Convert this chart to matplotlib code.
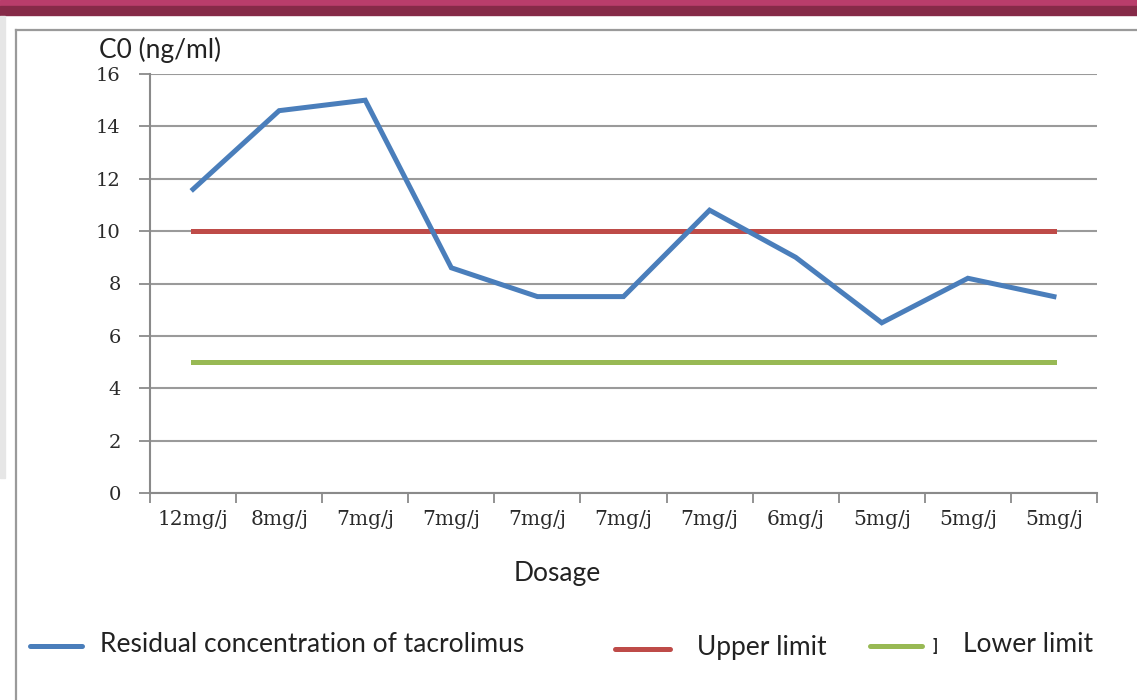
import matplotlib
matplotlib.use("Agg")
import matplotlib.pyplot as plt
from matplotlib.lines import Line2D
from matplotlib.patches import Rectangle

categories = ["12mg/j", "8mg/j", "7mg/j", "7mg/j", "7mg/j", "7mg/j",
              "7mg/j", "6mg/j", "5mg/j", "5mg/j", "5mg/j"]
residual = [11.6, 14.6, 15.0, 8.6, 7.5, 7.5, 10.8, 9.0, 6.5, 8.2, 7.5]
upper_limit = [10] * len(categories)
lower_limit = [5] * len(categories)
y_ticks = [0, 2, 4, 6, 8, 10, 12, 14, 16]

W, H = 1137, 700
fig = plt.figure(figsize=(W / 100, H / 100), dpi=100)
fig.patch.set_facecolor("white")

def fx(px):
    return px / W

def fy(py):
    return 1 - py / H

# decorative top bar and frame
fig.patches.append(Rectangle((0, fy(6)), 1, 6 / H, transform=fig.transFigure,
                             color="#b93d6b", zorder=0))
fig.patches.append(Rectangle((0, fy(15)), 1, 9 / H, transform=fig.transFigure,
                             color="#862a48", zorder=0))
fig.patches.append(Rectangle((0, fy(478)), fx(5), (478 - 16) / H,
                             transform=fig.transFigure, color="#e6e6e6", zorder=0))
fig.lines.append(Line2D([fx(15.5), fx(15.5)], [0, fy(30)], transform=fig.transFigure,
                        color="#9a9a9a", lw=1.6))
fig.lines.append(Line2D([fx(15.5), 1], [fy(30), fy(30)], transform=fig.transFigure,
                        color="#9a9a9a", lw=1.6))

ax = fig.add_axes([fx(150), fy(493), fx(1097) - fx(150), (493 - 74) / H])
x = list(range(len(categories)))

serif = "DejaVu Serif"
ax.set_ylim(0, 16)
ax.set_xlim(-0.5, len(categories) - 0.5)
ax.set_yticks(y_ticks)
ax.set_yticklabels([str(v) for v in y_ticks], family=serif,
                   fontsize=14, color="#2a2a2a")
ax.yaxis.grid(True, color="#9a9a9a", lw=1.5)
ax.set_axisbelow(True)

ax.set_xticks([i - 0.5 for i in range(len(categories) + 1)])
ax.set_xticklabels([])
ax.set_xticks(x, minor=True)
ax.set_xticklabels(categories, minor=True, family=serif,
                   fontsize=14.5, color="#2a2a2a")
ax.tick_params(axis="x", which="major", length=7, width=1.3, color="#8a8a8a",
               direction="out")
ax.tick_params(axis="x", which="minor", length=0, pad=12)
ax.tick_params(axis="y", length=8, width=1.3, color="#8a8a8a", pad=13)

for side in ["top", "right"]:
    ax.spines[side].set_visible(False)
ax.spines["left"].set_color("#8a8a8a")
ax.spines["left"].set_linewidth(1.5)
ax.spines["bottom"].set_color("#8a8a8a")
ax.spines["bottom"].set_linewidth(1.5)

blue = "#4a7ebb"
red = "#be4b48"
green = "#98b954"
ax.plot(x, residual, color=blue, lw=3.6, solid_joinstyle="miter", zorder=4)
ax.plot(x, upper_limit, color=red, lw=3.6, zorder=3)
ax.plot(x, lower_limit, color=green, lw=3.6, zorder=3)

sans = ["Lato", "DejaVu Sans"]
fig.text(fx(99), fy(50), "C0 (ng/ml)", family=sans, fontsize=19, color="#222222",
         ha="left", va="center")
fig.text(fx(557), fy(573), "Dosage", family=sans, fontsize=19, color="#222222",
         ha="center", va="center")

# legend
leg = [(30, 82, 100, "Residual concentration of tacrolimus", blue, 646),
       (615, 670, 697, "Upper limit", red, 649),
       (870, 922, 963, "Lower limit", green, 646)]
for x0, x1, tx, label, col, yy in leg:
    fig.lines.append(Line2D([fx(x0), fx(x1)], [fy(yy), fy(yy)],
                            transform=fig.transFigure, color=col, lw=3.6,
                            solid_capstyle="round"))
    fig.text(fx(tx), fy(yy - 2), label, family=sans, fontsize=19, color="#222222",
             ha="left", va="center")
fig.text(fx(933), fy(646), "]", family=sans, fontsize=12, color="#222222",
         ha="left", va="center", fontweight="bold")

fig.savefig("out.png", dpi=100)
